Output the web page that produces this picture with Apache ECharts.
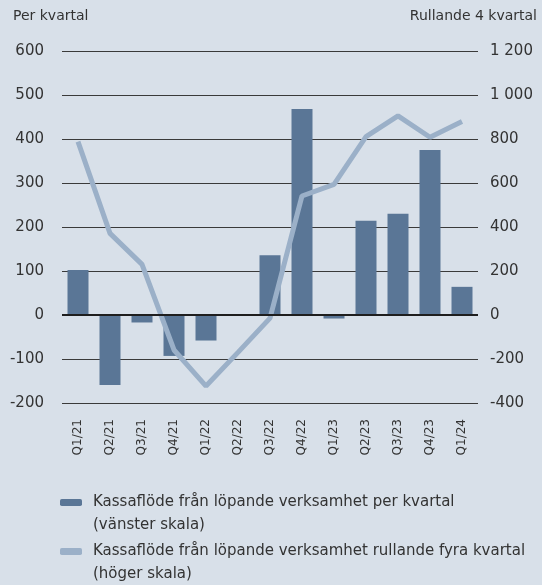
<!DOCTYPE html>
<html><head><meta charset="utf-8">
<script src="https://cdn.jsdelivr.net/npm/echarts@6/dist/echarts.min.js"></script>
<style>html,body{margin:0;padding:0;background:#d8e0e9}#c{width:542px;height:585px}</style>
</head><body><div id="c"></div>
<script>
const categories = ['Q1/21','Q2/21','Q3/21','Q4/21','Q1/22','Q2/22','Q3/22','Q4/22','Q1/23','Q2/23','Q3/23','Q4/23','Q1/24'];
const perQuarter = [102,-159,-17,-93,-58,-2,136,468,-8,214,230,375,64];
const rolling4Q = [788,371,230,-159,-323,-170,-14,541,594,811,905,808,879];
const leftTicks = {min:-200,max:600,interval:100};
const rightTicks = {min:-400,max:1200,interval:200};
const barName = 'Kassaflöde från löpande verksamhet per kvartal\n(vänster skala)';
const lineName = 'Kassaflöde från löpande verksamhet rullande fyra kvartal\n(höger skala)';

const FONT = 'DejaVu Sans';
const TXT = '#333333';
const chart = echarts.init(document.getElementById('c'));
function fmtSpace(v){ const s=Math.abs(v).toString().replace(/\B(?=(\d{3})+(?!\d))/g,' '); return (v<0?'-':'')+s; }
const legendText = {fontFamily:FONT,fontSize:15,color:TXT,lineHeight:23,padding:[0,0,0,6]};
const legendCommon = {left:55,orient:'vertical',icon:'roundRect',itemWidth:22,itemHeight:7,itemGap:0,
  textStyle:legendText,selectedMode:false,formatter:function(n){return '\n'+n;}};
chart.setOption({
  backgroundColor:'#d8e0e9',
  animation:false,
  textStyle:{fontFamily:FONT},
  title:[
    {text:'Per kvartal',left:8,top:4,textStyle:{fontFamily:FONT,fontSize:14,fontWeight:'normal',color:TXT}},
    {text:'Rullande 4 kvartal',right:0,top:4,textStyle:{fontFamily:FONT,fontSize:14,fontWeight:'normal',color:TXT}}
  ],
  grid:{left:62,right:64,top:51,bottom:182,containLabel:false},
  legend:[
    Object.assign({data:[{name:barName}],top:463},legendCommon),
    Object.assign({data:[{name:lineName}],top:512},legendCommon)
  ],
  xAxis:{type:'category',data:categories,axisLine:{show:false},axisTick:{show:false},
    axisLabel:{rotate:90,margin:16,fontFamily:FONT,fontSize:12,color:TXT}},
  yAxis:[
    {type:'value',min:leftTicks.min,max:leftTicks.max,interval:leftTicks.interval,position:'left',
     axisLine:{show:false},axisTick:{show:false},
     axisLabel:{margin:18,fontFamily:FONT,fontSize:15,color:TXT},
     splitLine:{lineStyle:{color:'#3a3a3a',width:1}}},
    {type:'value',min:rightTicks.min,max:rightTicks.max,interval:rightTicks.interval,position:'right',
     axisLine:{show:false},axisTick:{show:false},
     axisLabel:{margin:12,fontFamily:FONT,fontSize:15,color:TXT,formatter:fmtSpace},
     splitLine:{show:false}}
  ],
  series:[
    {name:barName,type:'bar',data:perQuarter,yAxisIndex:0,barWidth:21,itemStyle:{color:'#5a7696'},
     markLine:{silent:true,symbol:'none',label:{show:false},lineStyle:{color:'#1e1e1e',width:2,type:'solid'},data:[{yAxis:0}]}},
    {name:lineName,type:'line',data:rolling4Q,yAxisIndex:1,showSymbol:false,symbol:'none',
     lineStyle:{color:'#9bb0c8',width:5},itemStyle:{color:'#9bb0c8'},z:3}
  ]
});
</script></body></html>
